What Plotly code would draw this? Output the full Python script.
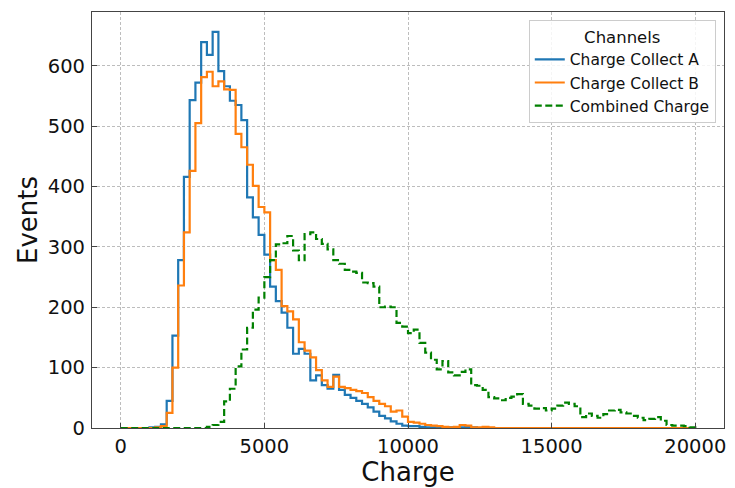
import plotly.graph_objects as go

# Histogram bin edges (Charge), 100 bins of width 200
bin_edges = list(range(0, 20001, 200))

counts_a = [
    0, 0, 0, 0, 0, 1, 2, 6, 45, 153,
    278, 416, 543, 572, 639, 618, 656, 591, 566, 542,
    535, 510, 382, 349, 320, 287, 234, 210, 191, 166,
    123, 131, 123, 79, 87, 71, 65, 88, 63, 55,
    50, 45, 40, 34, 27, 20, 16, 11, 7, 4,
    3, 3, 2, 1, 1, 1, 0, 1, 0, 1,
    2, 1, 0, 0, 0, 0, 0, 0, 0, 0,
    0, 0, 0, 0, 0, 0, 0, 0, 0, 0,
    0, 0, 0, 0, 0, 0, 0, 0, 0, 0,
    0, 0, 0, 0, 0, 0, 0, 0, 0, 0,
]

counts_b = [
    0, 0, 0, 0, 0, 0, 1, 3, 25, 100,
    236, 324, 426, 505, 581, 590, 566, 574, 561, 560,
    487, 465, 436, 401, 366, 357, 278, 262, 202, 193,
    180, 142, 128, 117, 96, 79, 68, 85, 68, 66,
    63, 61, 58, 51, 45, 40, 36, 27, 29, 19,
    10, 9, 7, 5, 4, 3, 2, 1, 2, 5,
    4, 1, 1, 2, 1, 0, 0, 0, 0, 0,
    0, 0, 0, 0, 0, 0, 0, 0, 0, 0,
    0, 0, 0, 0, 0, 0, 0, 0, 0, 0,
    0, 0, 0, 0, 0, 0, 0, 0, 0, 0,
]

counts_c = [
    0, 0, 0, 0, 0, 0, 0, 0, 0, 0,
    0, 0, 0, 0, 0, 2, 5, 10, 44, 65,
    102, 130, 166, 196, 216, 250, 278, 304, 306, 318,
    294, 278, 321, 324, 313, 305, 296, 278, 272, 262,
    259, 257, 241, 240, 234, 200, 201, 200, 174, 168,
    157, 163, 141, 125, 113, 97, 111, 92, 87, 93,
    97, 71, 70, 63, 51, 49, 46, 50, 52, 56,
    40, 37, 32, 33, 29, 32, 37, 42, 40, 36,
    18, 24, 20, 17, 23, 29, 30, 26, 24, 20,
    17, 13, 15, 18, 12, 5, 4, 4, 3, 1,
]

series_names = ["Charge Collect A", "Charge Collect B", "Combined Charge"]
x_ticks = [0, 5000, 10000, 15000, 20000]
y_ticks = [0, 100, 200, 300, 400, 500, 600]


def step_xy(edges, counts):
    xs = [edges[0]] + list(edges)
    ys = [0] + list(counts) + [0]
    return xs, ys


FONT = "DejaVu Sans"
fig = go.Figure()

styles = [
    dict(color="#1f77b4", width=2.2, dash="solid"),
    dict(color="#ff7f0e", width=2.2, dash="solid"),
    dict(color="#008000", width=2.2, dash="7px,3.5px"),
]

for name, counts, st in zip(series_names, [counts_a, counts_b, counts_c], styles):
    xs, ys = step_xy(bin_edges, counts)
    fig.add_trace(go.Scatter(
        x=xs, y=ys, mode="lines", name=name,
        line=dict(shape="hv", **st),
    ))

axis_common = dict(
    showline=True, linecolor="#444444", linewidth=1.2, mirror=True,
    ticks="inside", ticklen=5, tickwidth=1, tickcolor="#444444",
    showgrid=True, gridcolor="#bdbdbd", gridwidth=0.8, griddash="3px,2px",
    zeroline=False,
    tickfont=dict(family=FONT, size=19.5, color="#111111"),
)

fig.update_xaxes(
    range=[-1000, 21000], tickvals=x_ticks, ticktext=[str(v) for v in x_ticks],
    title=dict(text="Charge", font=dict(family=FONT, size=26, color="#111111"), standoff=3),
    **axis_common,
)
fig.update_yaxes(
    range=[0, 689], tickvals=y_ticks, ticktext=[str(v) for v in y_ticks],
    title=dict(text="Events", font=dict(family=FONT, size=26, color="#111111"), standoff=2),
    ticklabelstandoff=2,
    **axis_common,
)

fig.update_layout(
    width=735, height=488,
    margin=dict(l=92, r=9, t=12, b=56),
    paper_bgcolor="white", plot_bgcolor="white",
    font=dict(family=FONT, color="#111111"),
    showlegend=True,
    legend=dict(
        x=0.987, y=0.98, xanchor="right", yanchor="top",
        bgcolor="rgba(255,255,255,0.85)", bordercolor="#cccccc", borderwidth=1,
        font=dict(family=FONT, size=15.5, color="#111111"),
        title=dict(text="Channels", side="top center", font=dict(family=FONT, size=16.5, color="#111111")),
        itemwidth=30, tracegroupgap=0,
    ),
)

fig.write_html(
    "out.html",
    config={"displayModeBar": False},
    post_script="document.body.style.margin='0';document.body.style.overflow='hidden';",
)
